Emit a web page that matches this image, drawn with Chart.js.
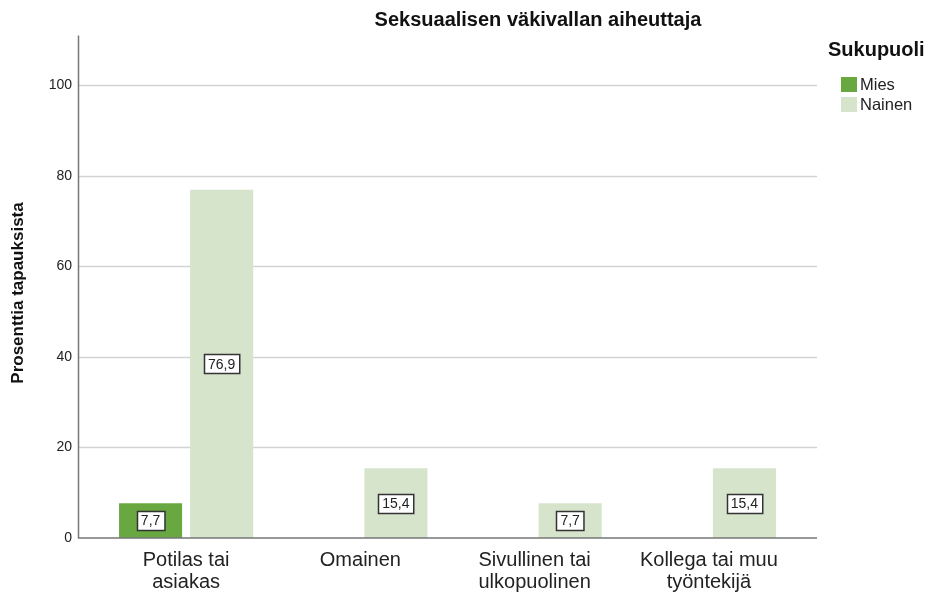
<!DOCTYPE html>
<html>
<head>
<meta charset="utf-8">
<title>Seksuaalisen väkivallan aiheuttaja</title>
<script src="https://cdn.jsdelivr.net/npm/chart.js@4.4.1/dist/chart.umd.min.js"></script>
<style>
  html, body { margin: 0; padding: 0; background: #fff; }
  canvas { display: block; }
</style>
</head>
<body>
<canvas id="chart" width="929" height="592"></canvas>
<script>
// data
const categories = [["Potilas tai", "asiakas"], "Omainen", ["Sivullinen tai", "ulkopuolinen"], ["Kollega tai muu", "työntekijä"]];
const miesValues = [7.7, null, null, null];
const nainenValues = [76.9, 15.4, 7.7, 15.4];
const seriesNames = ["Mies", "Nainen"];
const yTicks = [0, 20, 40, 60, 80, 100];
const yMax = 111;

const FONT = "'Liberation Sans', Arial, sans-serif";
const colors = { mies: '#69a840', nainen: '#d6e4cc' };

// gridlines run a bit past the bars on both sides
const gridLeft = 78, gridRight = 817;

const gridPlugin = {
    id: 'grid',
    beforeDatasetsDraw(chart) {
        const ctx = chart.ctx, y = chart.scales.y;
        ctx.save();
        ctx.strokeStyle = '#d2d2d2';
        ctx.lineWidth = 1.5;
        yTicks.forEach(v => {
            if (v === 0) return;
            const py = Math.round(y.getPixelForValue(v)) + 0.5;
            ctx.beginPath();
            ctx.moveTo(gridLeft, py);
            ctx.lineTo(gridRight, py);
            ctx.stroke();
        });
        ctx.restore();
    }
};

const axesAndLabels = {
    id: 'axesAndLabels',
    afterDatasetsDraw(chart) {
        const ctx = chart.ctx, area = chart.chartArea;
        const zeroY = chart.scales.y.getPixelForValue(0);
        ctx.save();
        ctx.strokeStyle = '#777';
        ctx.lineWidth = 1.5;
        ctx.beginPath();
        ctx.moveTo(gridLeft + 0.5, area.top);
        ctx.lineTo(gridLeft + 0.5, zeroY);
        ctx.lineTo(gridRight, zeroY);
        ctx.stroke();

        // value boxes in the middle of each bar
        ctx.font = '14px ' + FONT;
        ctx.textAlign = 'center';
        ctx.textBaseline = 'middle';
        chart.data.datasets.forEach((ds, i) => {
            chart.getDatasetMeta(i).data.forEach((bar, j) => {
                const v = ds.data[j];
                if (v == null) return;
                const txt = v.toFixed(1).replace('.', ',');
                const cy = (bar.y + bar.base) / 2;
                const w = ctx.measureText(txt).width + 8, h = 19;
                const bx = Math.round(bar.x - w / 2) + 0.5, by = Math.round(cy - h / 2) + 0.5;
                ctx.fillStyle = '#fff';
                ctx.fillRect(bx, by, w, h);
                ctx.strokeStyle = '#333';
                ctx.lineWidth = 1.5;
                ctx.strokeRect(bx, by, w, h);
                ctx.fillStyle = '#222';
                ctx.fillText(txt, bar.x, cy + 1);
            });
        });
        ctx.restore();
    },
    afterDraw(chart) {
        const ctx = chart.ctx;
        ctx.save();
        ctx.fillStyle = '#111';
        ctx.textBaseline = 'middle';

        ctx.font = 'bold 20px ' + FONT;
        ctx.textAlign = 'center';
        ctx.fillText('Seksuaalisen väkivallan aiheuttaja', 538, 20);

        // y axis title
        ctx.save();
        ctx.translate(18, 293);
        ctx.rotate(-Math.PI / 2);
        ctx.font = 'bold 17px ' + FONT;
        ctx.fillText('Prosenttia tapauksista', 0, 0);
        ctx.restore();

        // legend
        ctx.textAlign = 'left';
        ctx.font = 'bold 20px ' + FONT;
        ctx.fillText('Sukupuoli', 828, 50);
        ctx.font = '16.5px ' + FONT;
        chart.data.datasets.forEach((ds, i) => {
            const top = 77 + i * 20;
            ctx.fillStyle = ds.backgroundColor;
            ctx.fillRect(841, top, 16, 15);
            ctx.fillStyle = '#222';
            ctx.fillText(ds.label, 860, top + 8);
        });
        ctx.restore();
    }
};

new Chart(document.getElementById('chart'), {
    type: 'bar',
    data: {
        labels: categories,
        datasets: [
            { label: seriesNames[0], data: miesValues, backgroundColor: colors.mies },
            { label: seriesNames[1], data: nainenValues, backgroundColor: colors.nainen }
        ]
    },
    options: {
        responsive: false,
        animation: false,
        devicePixelRatio: 1,
        categoryPercentage: 0.816,
        barPercentage: 0.887,
        layout: { padding: { left: 0, right: 133, top: 34, bottom: 0 } },
        plugins: {
            legend: { display: false },
            title: { display: false },
            tooltip: { enabled: false }
        },
        scales: {
            x: {
                grid: { display: false, drawTicks: false },
                border: { display: false },
                ticks: {
                    color: '#222',
                    font: { family: FONT, size: 20, lineHeight: '22px' },
                    padding: 11,
                    maxRotation: 0,
                    autoSkip: false
                },
                afterFit(scale) { scale.height = 54; }
            },
            y: {
                min: 0,
                max: yMax,
                grid: { display: false, drawTicks: false },
                border: { display: false },
                ticks: {
                    color: '#222',
                    font: { family: FONT, size: 14 },
                    padding: 27
                },
                afterBuildTicks(scale) { scale.ticks = yTicks.map(v => ({ value: v })); },
                afterFit(scale) { scale.width = 99; }
            }
        }
    },
    plugins: [gridPlugin, axesAndLabels]
});
</script>
</body>
</html>
